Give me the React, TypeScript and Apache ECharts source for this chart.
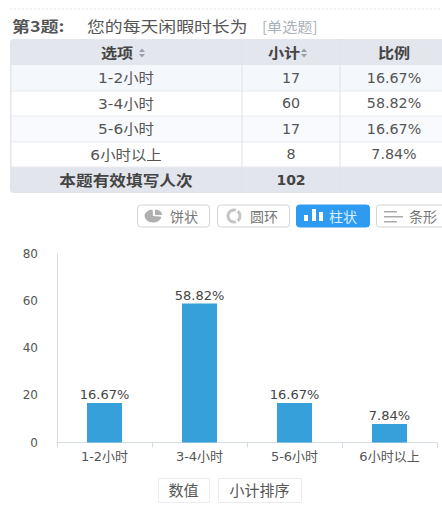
import React, { useEffect, useRef } from "react";
import * as echarts from "echarts";

const categories = ["1-2小时", "3-4小时", "5-6小时", "6小时以上"];
const percents = [16.67, 58.82, 16.67, 7.84];
const counts = ["17", "60", "17", "8"];
const percentLabels = ["16.67%", "58.82%", "16.67%", "7.84%"];
const yTicks = { min: 0, max: 80, interval: 20 };
const totalLabel = "本题有效填写人次";
const totalCount = "102";
const headers = ["选项", "小计", "比例"];
const chartTypes = ["饼状", "圆环", "柱状", "条形"];
const footerButtons = ["数值", "小计排序"];

const FONT = "'DejaVu Sans','Noto Sans CJK SC',sans-serif";
const CJK = "'Noto Sans CJK SC',sans-serif";

const rowTops = [39, 65, 91, 116, 142, 167, 193];
const colX = [10, 242, 340, 442];
const colCenter = [126, 291, 394];

function text(str: string, x: number, y: number, size: number, fill: string, extra: any = {}, scaleX = 1) {
  return {
    type: "text",
    x,
    y,
    scaleX,
    z: 10,
    style: { text: str, fontSize: size, fontFamily: FONT, fill, align: "center", verticalAlign: "middle", ...extra },
  };
}

function triangles(cx: number, cy: number) {
  return [
    { type: "polygon", z: 10, shape: { points: [[cx - 3, cy - 1], [cx + 3, cy - 1], [cx, cy - 4.5]] }, style: { fill: "#9aa0aa" } },
    { type: "polygon", z: 10, shape: { points: [[cx - 3, cy + 1], [cx + 3, cy + 1], [cx, cy + 4.5]] }, style: { fill: "#9aa0aa" } },
  ];
}

function buildGraphics() {
  const g: any[] = [];
  g.push({ type: "line", shape: { x1: 10, y1: 9, x2: 442, y2: 9 }, style: { stroke: "#e6e6e6", lineWidth: 1, lineDash: [2, 2] } });
  g.push(text("第3题:", 12, 26, 15, "#555", { align: "left", fontWeight: "bold", fontFamily: CJK }, 1.2));
  g.push(text("您的每天闲暇时长为", 87, 26, 15, "#555", { align: "left", fontFamily: CJK }, 1.19));
  g.push(text("[单选题]", 262, 26, 14, "#aab0b8", { align: "left", fontFamily: CJK }, 1.08));

  // table backgrounds
  const fills = ["#e3e6ed", "#f4f7fb", "#ffffff", "#f8fafd", "#ffffff", "#e2e5eb"];
  for (let r = 0; r < 6; r++) {
    g.push({ type: "rect", shape: { x: colX[0], y: rowTops[r], width: 432, height: rowTops[r + 1] - rowTops[r], r: r === 0 ? [4, 0, 0, 0] : r === 5 ? [0, 0, 0, 4] : 0 }, style: { fill: fills[r] } });
    if (r > 0 && r < 5) {
      g.push({ type: "line", z: 5, shape: { x1: 11, y1: rowTops[r + 1], x2: 442, y2: rowTops[r + 1] }, style: { stroke: "#e9ebf0", lineWidth: 1 } });
    }
  }
  g.push({ type: "rect", z: 5, shape: { x: 10, y: 65, width: 1.5, height: 102 }, style: { fill: "#e3e6ed" } });
  for (const x of [colX[1], colX[2]]) {
    g.push({ type: "line", z: 5, shape: { x1: x, y1: 39, x2: x, y2: 193 }, style: { stroke: "#dfe2e8", lineWidth: 1 } });
  }
  const y = (r: number) => (rowTops[r] + rowTops[r + 1]) / 2;
  g.push(text(headers[0], 117, y(0), 14, "#444", { fontWeight: "bold", fontFamily: CJK }, 1.15));
  g.push(...triangles(142, y(0) + 1));
  g.push(text(headers[1], 284, y(0), 14, "#444", { fontWeight: "bold", fontFamily: CJK }, 1.15));
  g.push(...triangles(304, y(0) + 1));
  g.push(text(headers[2], 394, y(0), 14, "#444", { fontWeight: "bold", fontFamily: CJK }, 1.15));
  categories.forEach((c, i) => {
    g.push(text(c, colCenter[0], y(i + 1), 14, "#555", {}, 1.1));
    g.push(text(counts[i], colCenter[1], y(i + 1), 14, "#555", {}, 1.02));
    g.push(text(percentLabels[i], colCenter[2], y(i + 1), 14, "#555", {}, 1.02));
  });
  g.push(text(totalLabel, colCenter[0], y(5), 14.5, "#444", { fontWeight: "bold", fontFamily: CJK }, 1.15));
  g.push(text(totalCount, colCenter[1], y(5), 14, "#444", { fontWeight: "bold" }));

  // chart type buttons
  const bx = [137, 217, 296, 376];
  const bw = [72, 72, 73, 72];
  chartTypes.forEach((t, i) => {
    const on = i === 2;
    g.push({
      type: "rect",
      shape: { x: bx[i] + 0.5, y: 205, width: bw[i], height: 22, r: 3 },
      style: { fill: on ? "#2e9bf0" : "#fff", stroke: on ? "#2e9bf0" : "#d4d4d4", lineWidth: 1 },
    });
    g.push(text(t, bx[i] + 47, 216, 14, on ? "#d8eeff" : "#777", { fontFamily: CJK }));
  });
  // pie icon
  g.push({ type: "sector", z: 10, x: 153, y: 216, scaleX: 1.3, shape: { cx: 0, cy: 0, r: 6.5, r0: 0, startAngle: -Math.PI / 2 - 0.05, endAngle: 0.1, clockwise: false }, style: { fill: "#b0b0b0" } });
  g.push({ type: "sector", z: 10, x: 155, y: 215, scaleX: 1.3, shape: { cx: 0, cy: 0, r: 5.5, r0: 0, startAngle: -Math.PI / 2, endAngle: 0 }, style: { fill: "#b0b0b0" } });
  // donut icon: a ring cut by two white gaps on its right side
  g.push({ type: "ring", z: 10, shape: { cx: 234, cy: 216, r: 7.5, r0: 4.5 }, style: { fill: "#c4c4c4" } });
  g.push({ type: "line", z: 11, shape: { x1: 236, y1: 212, x2: 239, y2: 207 }, style: { stroke: "#fff", lineWidth: 2 } });
  g.push({ type: "line", z: 11, shape: { x1: 236, y1: 220, x2: 239, y2: 225 }, style: { stroke: "#fff", lineWidth: 2 } });
  // bar icon
  for (const [x, h] of [[304, 6], [312, 12], [319, 9]]) {
    g.push({ type: "rect", z: 10, shape: { x, y: 221 - h, width: 4, height: h }, style: { fill: "#fff" } });
  }
  // lines icon
  for (const [yy, w] of [[211, 13], [216, 19], [221, 13]]) {
    g.push({ type: "rect", z: 10, shape: { x: 384, y: yy, width: w, height: 1.5 }, style: { fill: "#aaa" } });
  }

  // footer buttons
  const fx = [158, 218];
  const fw = [51, 83];
  footerButtons.forEach((t, i) => {
    g.push({ type: "rect", shape: { x: fx[i] + 0.5, y: 478.5, width: fw[i], height: 24 }, style: { fill: "#fff", stroke: "#ececec", lineWidth: 1 } });
    g.push(text(t, fx[i] + fw[i] / 2, 489.5, 15, "#555", { fontFamily: CJK }));
  });
  return g;
}

export default function App() {
  const ref = useRef<HTMLDivElement>(null);
  useEffect(() => {
    document.body.style.margin = "0";
    const chart = echarts.init(ref.current!, undefined, { renderer: "svg" });
    chart.setOption({
      animation: false,
      backgroundColor: "#fff",
      textStyle: { fontFamily: FONT },
      grid: { left: 57, right: 5, top: 253.5, bottom: 65.5 },
      xAxis: {
        type: "category",
        data: categories,
        axisLine: { lineStyle: { color: "#d5dce6", width: 1 } },
        axisTick: { show: true, length: 5, lineStyle: { color: "#d5dce6" } },
        axisLabel: { color: "#555", fontSize: 13, margin: 7, fontFamily: FONT },
      },
      yAxis: {
        type: "value",
        min: yTicks.min,
        max: yTicks.max,
        interval: yTicks.interval,
        axisLine: { show: true, lineStyle: { color: "#d5dce6", width: 1 } },
        axisTick: { show: false },
        splitLine: { show: false },
        axisLabel: { color: "#555", fontSize: 12, margin: 19, fontFamily: FONT },
      },
      series: [
        {
          type: "bar",
          data: percents,
          barWidth: 35,
          itemStyle: { color: "#36a0db" },
          label: {
            show: true,
            position: "top",
            distance: 2,
            color: "#444",
            fontSize: 13,
            fontFamily: FONT,
            formatter: (p: any) => percentLabels[p.dataIndex],
          },
        },
      ],
      graphic: { elements: buildGraphics() },
    });
    return () => chart.dispose();
  }, []);
  return <div ref={ref} style={{ width: 442, height: 508 }} />;
}
